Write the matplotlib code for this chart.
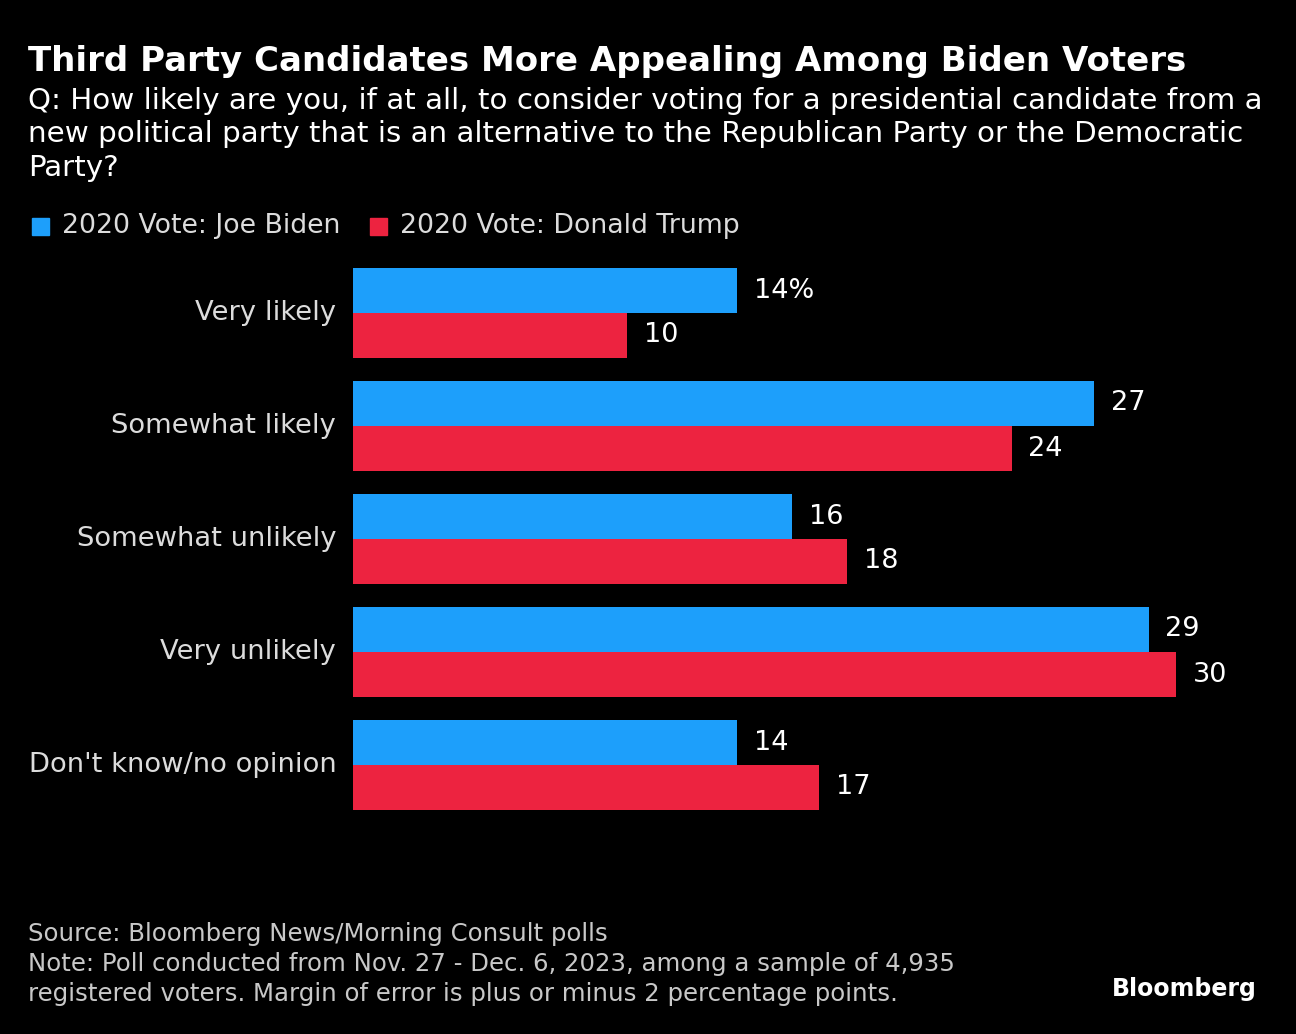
#!/usr/bin/env python3

import matplotlib
matplotlib.use('Agg')
import matplotlib.pyplot as plt
from matplotlib.patches import Rectangle

import numpy as np


categories = ['Very likely', 'Somewhat likely', 'Somewhat unlikely',
              'Very unlikely', "Don't know/no opinion"]
biden = [14, 27, 16, 29, 14]
trump = [10, 24, 18, 30, 17]
series_names = ['2020 Vote: Joe Biden', '2020 Vote: Donald Trump']

BLUE = '#1d9ffb'
RED = '#ed2340'
BG = '#000000'
LABEL = '#dcdcdc'

plt.rcParams['font.family'] = ['DejaVu Sans']

W, H = 1296, 1034
fig = plt.figure(figsize=(W / 100, H / 100), dpi=100, facecolor=BG)


def fx(px):
    return px / W


def fy(py):
    return 1 - py / H


# Axes placement in pixels
left, right, top, bottom = 353, 1262, 268, 810
ax = fig.add_axes([fx(left), fy(bottom), fx(right - left), (bottom - top) / H])
ax.set_facecolor(BG)

unit = 27.44  # pixels per percentage point
bh = 45 / 113
y = np.arange(len(categories))

ax.barh(y - bh / 2, biden, height=bh, color=BLUE)
ax.barh(y + bh / 2, trump, height=bh, color=RED)

ax.set_xlim(0, (right - left) / unit)
ax.set_ylim(len(categories) - 1 + bh, -bh)
ax.axis('off')

for i, (b, t) in enumerate(zip(biden, trump)):
    btxt = '%d%%' % b if i == 0 else str(b)
    ax.annotate(btxt, (b, i - bh / 2), xytext=(12, 0), textcoords='offset points',
                va='center', ha='left', color='white', fontsize=19.5)
    ax.annotate(str(t), (t, i + bh / 2), xytext=(12, 0), textcoords='offset points',
                va='center', ha='left', color='white', fontsize=19.5)
    ax.annotate(categories[i], (0, i), xytext=(-12, 0), textcoords='offset points',
                va='center', ha='right', color=LABEL, fontsize=19.7)

# Title and subtitle
fig.text(fx(28), fy(62), 'Third Party Candidates More Appealing Among Biden Voters',
         color='white', fontsize=24.5, fontweight='bold', va='center', ha='left')
subtitle = ('Q: How likely are you, if at all, to consider voting for a presidential candidate from a\n'
            'new political party that is an alternative to the Republican Party or the Democratic\n'
            'Party?')
fig.text(fx(28), fy(87), subtitle, color='white', fontsize=21.2, va='top', ha='left',
         linespacing=1.25)

# Legend
leg_x = [32, 370]
for name, color, lx in zip(series_names, [BLUE, RED], leg_x):
    fig.patches.append(Rectangle((fx(lx), fy(235)), fx(17), 17 / H, color=color,
                                 transform=fig.transFigure, figure=fig))
    fig.text(fx(lx + 30), fy(226), name, color=LABEL, fontsize=19.3,
             va='center', ha='left')

# Footer
footer = ('Source: Bloomberg News/Morning Consult polls\n'
          'Note: Poll conducted from Nov. 27 - Dec. 6, 2023, among a sample of 4,935\n'
          'registered voters. Margin of error is plus or minus 2 percentage points.')
fig.text(fx(28), fy(922), footer, color='#c8c8c8', fontsize=17.6, va='top', ha='left',
         linespacing=1.31)
fig.text(fx(1257), fy(989), 'Bloomberg', color='white', fontsize=17,
         fontweight='bold', va='center', ha='right')

fig.savefig('out.png', dpi=100, facecolor=BG)
